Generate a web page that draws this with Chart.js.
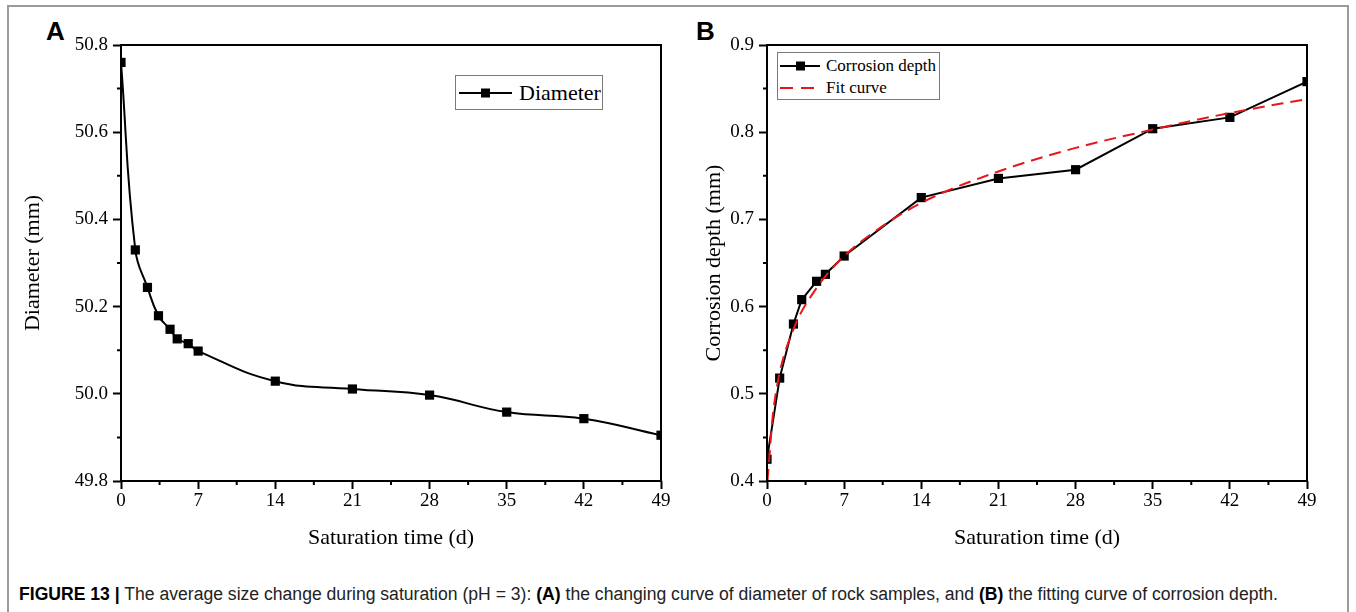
<!DOCTYPE html>
<html>
<head>
<meta charset="utf-8">
<script src="https://cdn.jsdelivr.net/npm/chart.js@4.4.1/dist/chart.umd.min.js"></script>
<style>
  html, body { margin: 0; padding: 0; background: #fff; }
  #page { position: relative; width: 1356px; height: 612px; overflow: hidden; }
  #frame { position: absolute; left: 7px; top: 5px; width: 1342px; height: 640px;
           border: 2px solid #9a9a9a; box-sizing: border-box; }
  .panel { position: absolute; top: 0; }
  .tag { position: absolute; top: 16px; font: bold 26px "Liberation Sans", Arial, sans-serif; }
  .legend { position: absolute; background: #fff; border: 1px solid #7a7a7a;
            font-family: "Liberation Serif", "Times New Roman", serif; color: #000; }
  .legend .row { position: absolute; left: 0; display: flex; align-items: center; white-space: nowrap; }
  .legend svg { display: block; }
  #caption { position: absolute; left: 19px; top: 584px; white-space: nowrap;
             font: 18px "Liberation Sans", Arial, sans-serif; color: #222; transform-origin: left center; }
  #caption b { color: #000; }
</style>
</head>
<body>
<div id="page">
  <div id="frame"></div>
  <div class="tag" style="left:46px">A</div>
  <div class="tag" style="left:696px">B</div>
  <div class="panel" style="left:0"><canvas id="chart_a" width="680" height="560"></canvas></div>
  <div class="panel" style="left:680px"><canvas id="chart_b" width="676" height="560"></canvas></div>

  <div class="legend" style="left:455px; top:75px; width:146px; height:33px; font-size:22px">
    <div class="row" style="top:0; height:33px">
      <svg width="58" height="33" style="margin-left:2px"><line x1="1" y1="17" x2="54" y2="17" stroke="#000" stroke-width="2"/><rect x="23" y="12.5" width="9" height="9" fill="#000"/></svg>
      <span style="margin-left:3px">Diameter</span>
    </div>
  </div>

  <div class="legend" style="left:777px; top:52px; width:161px; height:46px; font-size:17px">
    <div class="row" style="top:2px; height:22px">
      <svg width="44" height="22" style="margin-left:1px"><line x1="1" y1="11" x2="41" y2="11" stroke="#000" stroke-width="2"/><rect x="17" y="6.5" width="9" height="9" fill="#000"/></svg>
      <span style="margin-left:3px">Corrosion depth</span>
    </div>
    <div class="row" style="top:24px; height:22px">
      <svg width="44" height="22" style="margin-left:1px"><line x1="1" y1="11" x2="41" y2="11" stroke="#e8161b" stroke-width="2" stroke-dasharray="13 8"/></svg>
      <span style="margin-left:3px">Fit curve</span>
    </div>
  </div>

  <div id="caption"><b>FIGURE 13 |</b> The average size change during saturation (pH = 3): <b>(A)</b> the changing curve of diameter of rock samples, and <b>(B)</b> the fitting curve of corrosion depth.</div>
</div>

<script>
// panel A: diameter
const days_a = [0, 1.3, 2.4, 3.4, 4.45, 5.1, 6.1, 7, 14, 21, 28, 35, 42, 49];
const diameter = [50.760, 50.330, 50.244, 50.179, 50.148, 50.126, 50.115, 50.098, 50.029, 50.011, 49.997, 49.958, 49.943, 49.905];

// panel B: corrosion depth and its fit
const days_b = [0, 1.15, 2.4, 3.15, 4.5, 5.3, 7, 14, 21, 28, 35, 42, 49];
const depth = [0.425, 0.518, 0.580, 0.608, 0.629, 0.637, 0.658, 0.725, 0.747, 0.757, 0.804, 0.817, 0.858];
const fit_days = [0.04, 0.25, 0.5, 1, 1.5, 2, 3, 4, 5, 7, 10, 14, 21, 28, 35, 42, 49];
const fit_depth = [0.400, 0.433, 0.472, 0.515, 0.542, 0.561, 0.591, 0.612, 0.630, 0.658, 0.688, 0.719, 0.755, 0.782, 0.803, 0.822, 0.838];

// ticks
const x_ticks = [0, 7, 14, 21, 28, 35, 42, 49];
const x_minor = [3.5, 10.5, 17.5, 24.5, 31.5, 38.5, 45.5];
const y_ticks_a = [49.8, 50.0, 50.2, 50.4, 50.6, 50.8];
const y_minor_a = [49.9, 50.1, 50.3, 50.5, 50.7];
const y_ticks_b = [0.4, 0.5, 0.6, 0.7, 0.8, 0.9];
const y_minor_b = [0.45, 0.55, 0.65, 0.75, 0.85];

const serif = "'Liberation Serif', 'Times New Roman', serif";

function to_points(xs, ys) {
    return xs.map((x, i) => ({ x: x, y: ys[i] }));
}

// box around the plot and the short minor ticks
const frame_plugin = {
    id: 'frame_plugin',
    afterDraw(chart, args, opts) {
        const ctx = chart.ctx;
        const area = chart.chartArea;
        const xs = chart.scales.x;
        const ys = chart.scales.y;
        ctx.save();
        ctx.strokeStyle = '#000';
        ctx.lineWidth = 2;
        ctx.strokeRect(area.left, area.top, area.right - area.left, area.bottom - area.top);
        ctx.beginPath();
        for (const v of opts.x_minor) {
            const px = xs.getPixelForValue(v);
            ctx.moveTo(px, area.bottom);
            ctx.lineTo(px, area.bottom + 4);
        }
        for (const v of opts.y_minor) {
            const py = ys.getPixelForValue(v);
            ctx.moveTo(area.left, py);
            ctx.lineTo(area.left - 4, py);
        }
        ctx.stroke();
        ctx.restore();
    }
};

function make_scales(y_min, y_max, y_ticks, y_digits, y_title, y_width, y_title_pad) {
    return {
        x: {
            type: 'linear',
            min: 0,
            max: 49,
            afterBuildTicks: (s) => { s.ticks = x_ticks.map(v => ({ value: v })); },
            afterFit: (s) => { s.height = 79; },
            grid: { drawOnChartArea: false, drawTicks: true, tickLength: 8, tickWidth: 2, tickColor: '#000' },
            border: { display: false },
            ticks: { color: '#000', font: { family: serif, size: 19 }, padding: 1, maxRotation: 0,
                     callback: (v) => String(v) },
            title: { display: true, text: 'Saturation time (d)', color: '#000',
                     font: { family: serif, size: 22 }, padding: { top: 9, bottom: 9 } }
        },
        y: {
            type: 'linear',
            min: y_min,
            max: y_max,
            afterBuildTicks: (s) => { s.ticks = y_ticks.map(v => ({ value: v })); },
            afterFit: (s) => { s.width = y_width; },
            grid: { drawOnChartArea: false, drawTicks: true, tickLength: 8, tickWidth: 2, tickColor: '#000' },
            border: { display: false },
            ticks: { color: '#000', font: { family: serif, size: 19 }, padding: 5,
                     callback: (v) => Number(v).toFixed(y_digits) },
            title: { display: true, text: y_title, color: '#000',
                     font: { family: serif, size: 22 }, padding: { top: y_title_pad, bottom: y_title_pad } }
        }
    };
}

function draw_chart_a() {
    const ctx = document.getElementById('chart_a').getContext('2d');
    new Chart(ctx, {
        type: 'line',
        data: {
            datasets: [{
                label: 'Diameter',
                data: to_points(days_a, diameter),
                borderColor: '#000',
                backgroundColor: '#000',
                borderWidth: 2,
                tension: 0.45,
                pointStyle: 'rect',
                pointRadius: 6.5,
                pointBorderWidth: 0,
                clip: 0
            }]
        },
        options: {
            responsive: false,
            animation: false,
            events: [],
            layout: { padding: { top: 45, right: 19, left: 0, bottom: 0 } },
            plugins: {
                legend: { display: false },
                tooltip: { enabled: false },
                frame_plugin: { x_minor: x_minor, y_minor: y_minor_a }
            },
            scales: make_scales(49.8, 50.8, y_ticks_a, 1, 'Diameter (mm)', 121, 20)
        },
        plugins: [frame_plugin]
    });
}

function draw_chart_b() {
    const ctx = document.getElementById('chart_b').getContext('2d');
    new Chart(ctx, {
        type: 'line',
        data: {
            datasets: [{
                label: 'Fit curve',
                data: to_points(fit_days, fit_depth),
                borderColor: '#e8161b',
                borderWidth: 2,
                borderDash: [12, 7],
                cubicInterpolationMode: 'monotone',
                pointRadius: 0,
                clip: 0
            }, {
                label: 'Corrosion depth',
                data: to_points(days_b, depth),
                borderColor: '#000',
                backgroundColor: '#000',
                borderWidth: 2,
                tension: 0,
                pointStyle: 'rect',
                pointRadius: 6.5,
                pointBorderWidth: 0,
                clip: 0
            }]
        },
        options: {
            responsive: false,
            animation: false,
            events: [],
            layout: { padding: { top: 45, right: 49, left: 0, bottom: 0 } },
            plugins: {
                legend: { display: false },
                tooltip: { enabled: false },
                frame_plugin: { x_minor: x_minor, y_minor: y_minor_b }
            },
            scales: make_scales(0.4, 0.9, y_ticks_b, 1, 'Corrosion depth (mm)', 87, 21)
        },
        plugins: [frame_plugin]
    });
}

function fit_caption() {
    const cap = document.getElementById('caption');
    const w = cap.getBoundingClientRect().width;
    cap.style.transform = `scaleX(${1259 / w})`;
}

draw_chart_a();
draw_chart_b();
fit_caption();
</script>
</body>
</html>
